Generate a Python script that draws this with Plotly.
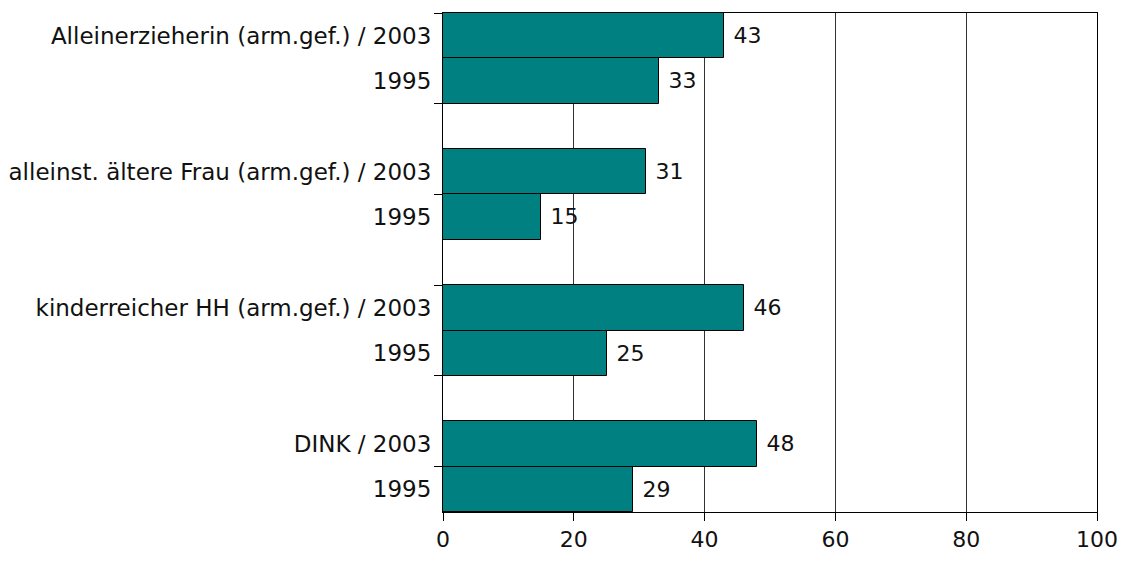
import plotly.graph_objects as go

# Category keys (unique), in top-to-bottom order; blank keys are empty spacer slots
keys = ["AE_2003", "AE_1995", "gap1", "AF_2003", "AF_1995", "gap2",
        "KH_2003", "KH_1995", "gap3", "DINK_2003", "DINK_1995"]
tick_labels = ["Alleinerzieherin (arm.gef.) / 2003", "1995", "",
               "alleinst. ältere Frau (arm.gef.) / 2003", "1995", "",
               "kinderreicher HH (arm.gef.) / 2003", "1995", "",
               "DINK / 2003", "1995"]

bar_keys = ["AE_2003", "AE_1995", "AF_2003", "AF_1995",
            "KH_2003", "KH_1995", "DINK_2003", "DINK_1995"]
values = [43, 33, 31, 15, 46, 25, 48, 29]

# Group separator tick positions (category boundaries)
boundary_ticks = [-0.5, 1.5, 3.5, 5.5, 7.5, 9.5]

FONT = "DejaVu Sans"
FS = 22

fig = go.Figure()
fig.add_trace(go.Bar(
    x=values, y=bar_keys, orientation="h",
    marker=dict(color="#008080", line=dict(color="#000000", width=1)),
    text=[f" {v}" for v in values], textposition="outside",
    textfont=dict(family=FONT, size=FS, color="#111111"),
    cliponaxis=False, showlegend=False, hoverinfo="skip",
))
# empty trace to anchor the boundary-tick axis
fig.add_trace(go.Scatter(x=[], y=[], yaxis="y2", showlegend=False))

fig.update_layout(
    width=1129, height=562,
    margin=dict(l=435, r=40, t=5, b=58, autoexpand=False),
    paper_bgcolor="white", plot_bgcolor="white",
    bargap=0,
    font=dict(family=FONT, size=FS, color="#111111"),
    xaxis=dict(
        range=[0, 100], tickvals=[0, 20, 40, 60, 80, 100],
        showgrid=True, gridcolor="#333333", gridwidth=1,
        showline=True, linecolor="#000000", linewidth=1, mirror=True,
        ticks="outside", ticklen=8, tickcolor="#000000",
        tickfont=dict(family=FONT, size=FS, color="#111111"),
        zeroline=False, automargin=False,
    ),
    yaxis=dict(
        type="category", categoryorder="array", categoryarray=keys,
        range=[10.5, -0.5],
        tickvals=keys, ticktext=tick_labels,
        ticks="", showgrid=False,
        showline=True, linecolor="#000000", linewidth=1, mirror=True,
        tickfont=dict(family=FONT, size=23, color="#111111"),
        ticklabelstandoff=6, automargin=False,
    ),
    yaxis2=dict(
        overlaying="y", side="left", range=[10.5, -0.5],
        tickvals=boundary_ticks, showticklabels=False,
        ticks="outside", ticklen=8, tickcolor="#000000",
        showgrid=False, zeroline=False, showline=False, automargin=False,
    ),
)

fig.write_html("out.html")
